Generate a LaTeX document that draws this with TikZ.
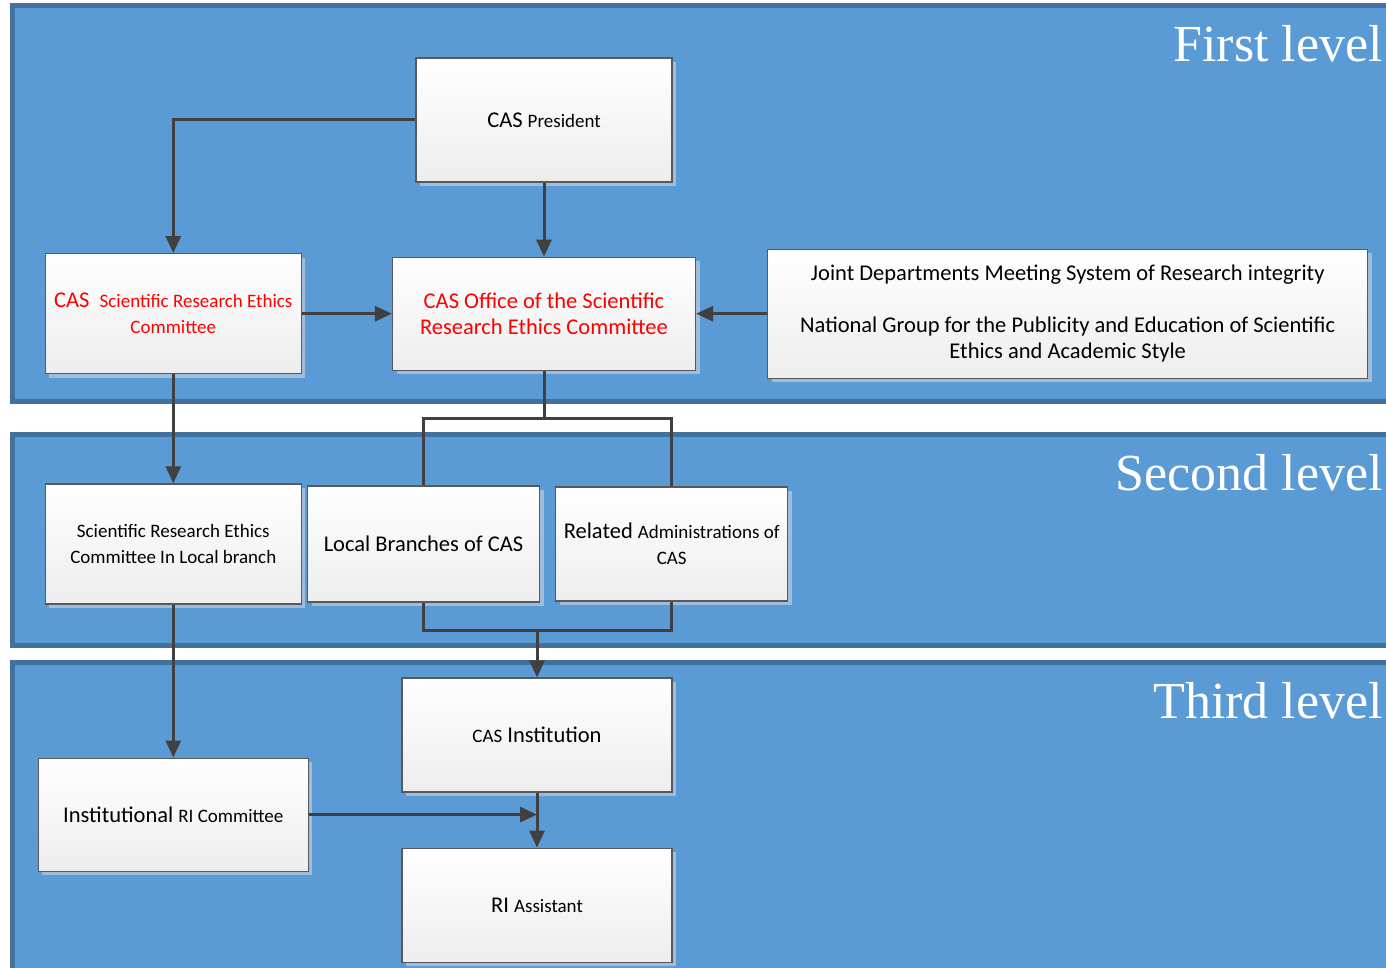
\documentclass[tikz,border=0pt]{standalone}
\usepackage{fontspec}
\newfontfamily\boxfont{Carlito}
\newfontfamily\levelfont{Liberation Serif}
\usetikzlibrary{positioning, arrows.meta, shadows}
\definecolor{bandfill}{HTML}{5B9BD5}
\definecolor{bandline}{HTML}{41719C}
\definecolor{boxline}{HTML}{595959}
\definecolor{boxbot}{HTML}{EDEDED}
\definecolor{shadowcol}{HTML}{A0BCDB}
\definecolor{wirecol}{HTML}{404040}
\tikzset{
  >={Triangle[width=15pt, length=17pt]},
  band/.style={draw=bandline, line width=5pt, fill=bandfill},
  box/.style={draw=boxline, line width=1.2pt, top color=white, bottom color=boxbot, inner sep=2pt, align=center, font=\boxfont\fontsize{22.5}{26}\selectfont, drop shadow={shadow xshift=4pt, shadow yshift=-4pt, fill=shadowcol, opacity=1}},
  level/.style={text=white, inner sep=0pt, font=\levelfont\fontsize{52}{62}\selectfont},
  wire/.style={draw=wirecol, line width=3pt},
}
\newcommand{\Sm}[1]{{\fontsize{19}{26}\selectfont #1}}

\begin{document}
\begin{tikzpicture}[x=1pt, y=-1pt]
      \useasboundingbox (0,0) rectangle (1386,968);
      \clip (0,0) rectangle (1386,968);

      % the three levels
      \draw[band] (12.5,5.5) rectangle (1400,401.5);
      \draw[band] (12.5,434.5) rectangle (1400,645.5);
      \draw[band] (12.5,662.5) rectangle (1400,1000);
      \node[level, anchor=base east] (lvlone) at (1383,62) {First level};
      \node[level, anchor=base east] (lvltwo) at (1383,490) {Second level};
      \node[level, anchor=base east] (lvlthree) at (1383,718) {Third level};

      % first level
      \node[box, minimum width=256pt, minimum height=124pt] (pres) at (544,120) {CAS \Sm{President}};
      \node[box, text=red, minimum width=303pt, minimum height=113pt, below=74pt of pres] (office) {CAS Office of the Scientific\\Research Ethics Committee};
      \node[box, text=red, minimum width=256pt, minimum height=120pt, left=90pt of office] (srec) {CAS\ \ \Sm{Scientific Research Ethics}\\\Sm{Committee}};
      \node[box, minimum width=600pt, minimum height=129pt, right=71pt of office] (joint) {Joint Departments Meeting System of Research integrity\\[26pt]National Group for the Publicity and Education of Scientific\\Ethics and Academic Style};

      % second level
      \node[box, minimum width=256pt, minimum height=120pt, below=109pt of srec] (lsrec) {\Sm{Scientific Research Ethics}\\\Sm{Committee In Local branch}};
      \node[box, minimum width=232pt, minimum height=116pt, right=5pt of lsrec] (branch) {Local Branches of CAS};
      \node[box, minimum width=232pt, minimum height=114pt, right=15pt of branch] (admin) {Related \Sm{Administrations of}\\\Sm{CAS}};

      % third level
      \node[box, minimum width=270pt, minimum height=114pt] (inst) at (537,735) {\Sm{CAS} Institution};
      \node[box, minimum width=270pt, minimum height=114pt, below=55pt of inst] (riasst) {RI \Sm{Assistant}};
      \node[box, minimum width=270pt, minimum height=113pt, below=153pt of lsrec] (ricom) {Institutional \Sm{RI Committee}};

      \coordinate[below=48pt of office.south] (split);
      \coordinate (merge) at (537,630);

      \draw[wire, ->] (pres.west) -| (srec.north);
      \draw[wire, ->] (pres.south) -- (pres.south |- office.north);
      \draw[wire, ->] (srec.east) -- (srec.east -| office.west);
      \draw[wire, ->] (joint.west) -- (joint.west -| office.east);
      \draw[wire, ->] (srec) -- (lsrec);
      \draw[wire] (office.south) -- (split);
      \draw[wire] (branch.north) |- (split) -| (admin.north);
      \draw[wire] (branch.south) |- (merge) -| (admin.south);
      \draw[wire, ->] (merge) -- (inst.north);
      \draw[wire, ->] (lsrec) -- (ricom);
      \draw[wire, ->] (ricom.east) -- (ricom.east -| inst.south);
      \draw[wire, ->] (inst) -- (riasst);
    \end{tikzpicture}
\end{document}
